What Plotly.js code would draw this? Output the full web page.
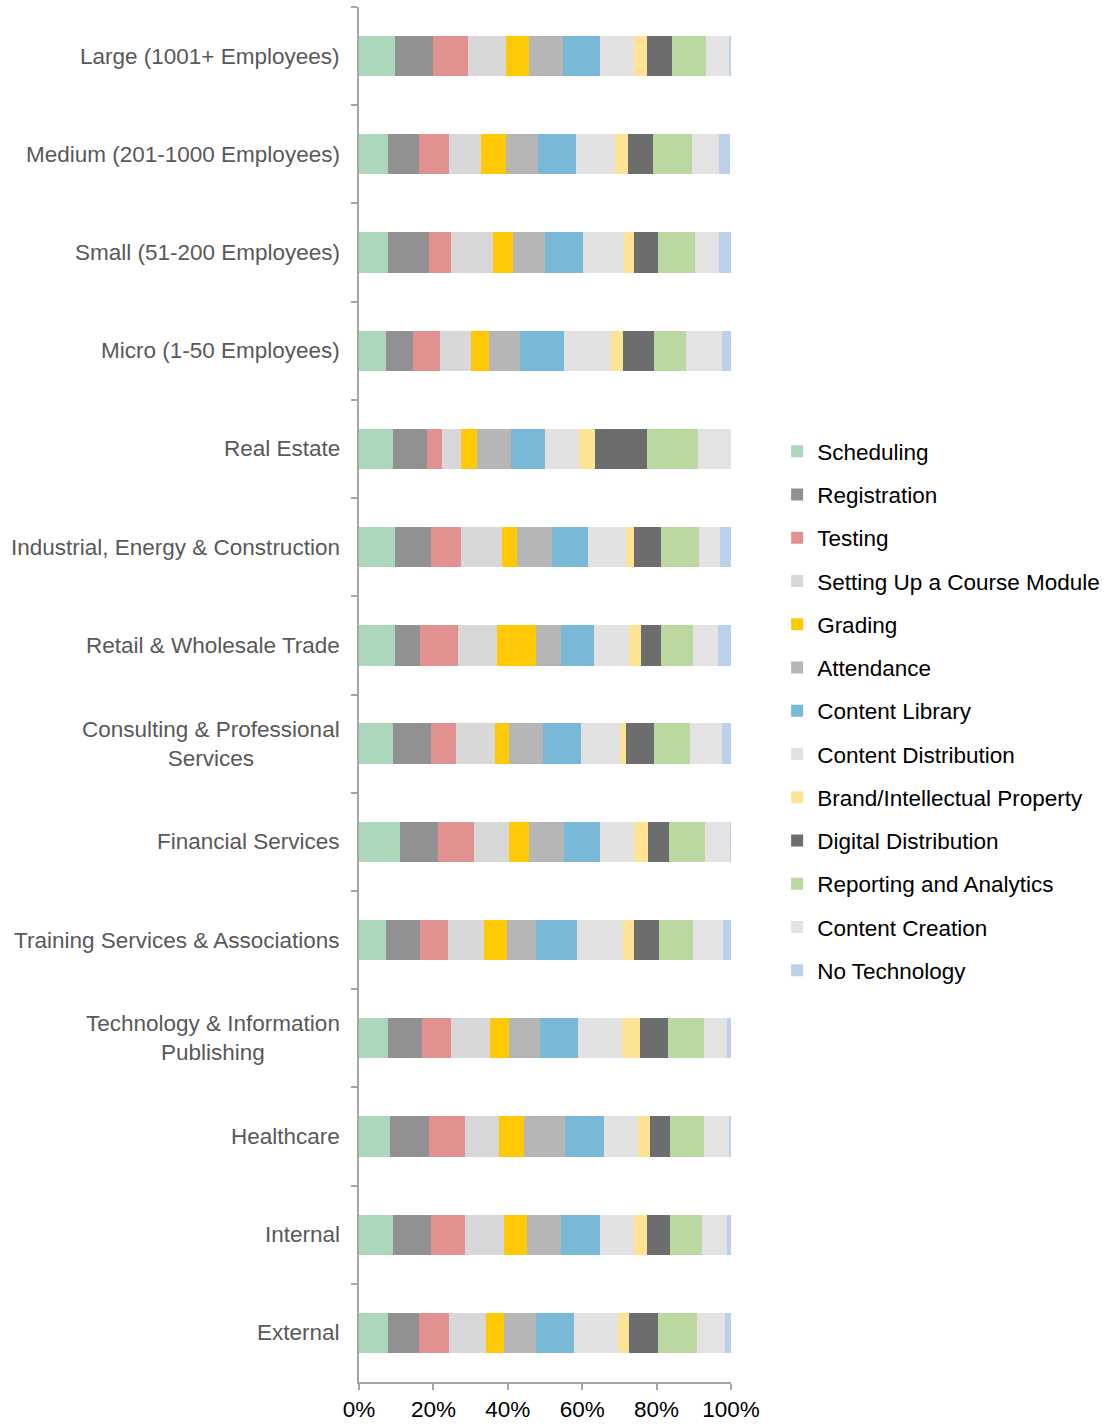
<!DOCTYPE html>
<html>
<head>
<meta charset="utf-8">
<script src="https://cdn.plot.ly/plotly-3.0.1.min.js"></script>
<style>
  html, body { margin: 0; padding: 0; background: #fff; }
  #chart { width: 1106px; height: 1427px; }
</style>
</head>
<body>
<div id="chart"></div>
<script>
const categories = [
  "Large (1001+ Employees)",
  "Medium (201-1000 Employees)",
  "Small (51-200 Employees)",
  "Micro (1-50 Employees)",
  "Real Estate",
  "Industrial, Energy & Construction",
  "Retail & Wholesale Trade",
  "Consulting & Professional<br>Services",
  "Financial Services",
  "Training Services & Associations",
  "Technology & Information<br>Publishing",
  "Healthcare",
  "Internal",
  "External"
];

const seriesNames = [
  "Scheduling", "Registration", "Testing", "Setting Up a Course Module",
  "Grading", "Attendance", "Content Library", "Content Distribution",
  "Brand/Intellectual Property", "Digital Distribution",
  "Reporting and Analytics", "Content Creation", "No Technology"
];

const seriesColors = [
  "#add7bb", "#919191", "#e09190", "#d9d8d9", "#ffca05", "#b5b6b5",
  "#79b8d7", "#e2e2e2", "#ffe394", "#6c6e6d", "#bad8a0", "#e3e3e3", "#bbd0ea"
];

// values in % per category (same order as categories)
const scheduling   = [9.7, 7.8, 7.8, 7.3, 9.1, 9.7, 9.7, 9.1, 11.0, 7.3, 7.8, 8.4, 9.1, 7.8];
const registration = [10.3, 8.4, 10.9, 7.3, 9.1, 9.7, 6.6, 10.3, 10.3, 9.0, 9.2, 10.3, 10.3, 8.4];
const testing      = [9.2, 8.0, 6.1, 7.3, 4.2, 7.9, 10.4, 6.7, 9.7, 7.5, 7.8, 9.8, 9.2, 8.0];
const settingUp    = [10.4, 8.6, 11.1, 8.1, 5.0, 11.1, 10.5, 10.4, 9.3, 9.8, 10.5, 9.2, 10.4, 9.9];
const grading      = [6.1, 6.7, 5.6, 4.9, 4.3, 4.2, 10.4, 3.7, 5.5, 6.1, 4.9, 6.7, 6.1, 4.9];
const attendance   = [9.2, 8.5, 8.5, 8.5, 9.2, 9.2, 6.7, 9.2, 9.2, 8.0, 8.5, 11.1, 9.2, 8.5];
const contentLib   = [9.8, 10.3, 10.3, 11.6, 9.1, 9.7, 9.0, 10.3, 9.8, 10.9, 10.3, 10.3, 10.4, 10.4];
const contentDist  = [9.2, 10.4, 11.0, 12.8, 9.2, 10.4, 9.3, 10.4, 9.2, 12.3, 11.7, 9.2, 9.2, 11.6];
const brandIP      = [3.6, 3.7, 2.5, 3.1, 4.3, 1.9, 3.1, 1.8, 3.6, 3.1, 4.9, 3.1, 3.6, 3.1];
const digitalDist  = [6.7, 6.7, 6.7, 8.5, 14.0, 7.3, 5.5, 7.4, 5.6, 6.7, 7.4, 5.6, 6.1, 7.9];
const reporting    = [9.1, 10.4, 9.7, 8.5, 13.5, 10.3, 8.6, 9.7, 9.7, 9.2, 9.7, 9.1, 8.6, 10.4];
const contentCreat = [6.2, 7.3, 6.7, 9.8, 9.1, 5.6, 6.7, 8.6, 6.7, 7.9, 6.1, 6.7, 6.6, 7.4];
const noTech       = [0.5, 3.0, 3.0, 2.3, 0.0, 3.0, 3.5, 2.3, 0.5, 2.3, 1.2, 0.5, 1.2, 1.7];

const seriesValues = [scheduling, registration, testing, settingUp, grading, attendance,
  contentLib, contentDist, brandIP, digitalDist, reporting, contentCreat, noTech];

const xTickVals = [0, 20, 40, 60, 80, 100];
const xTickText = ["0%", "20%", "40%", "60%", "80%", "100%"];

const traces = seriesNames.map((name, i) => ({
  type: "bar",
  orientation: "h",
  name: name,
  x: seriesValues[i],
  y: categories,
  marker: { color: seriesColors[i], line: { width: 0 } },
  legendgroup: "g" + i,
  hoverinfo: "name+x"
}));

const fontFam = "Liberation Sans, Arial, Helvetica, sans-serif";
const fs = 22.5;

const annotations = categories.map(c => ({
  xref: "paper", yref: "y",
  x: 0, y: c,
  xanchor: "right", yanchor: "middle",
  xshift: -17,
  text: c,
  align: "center",
  showarrow: false,
  font: { family: fontFam, size: fs, color: "#595959" }
}));

const layout = {
  width: 1106,
  height: 1427,
  margin: { l: 359, r: 375, t: 7, b: 45, pad: 0, autoexpand: false },
  paper_bgcolor: "#ffffff",
  plot_bgcolor: "#ffffff",
  barmode: "stack",
  bargap: 0.59,
  font: { family: fontFam, size: fs, color: "#000" },
  showlegend: true,
  legend: {
    x: 1.124, xanchor: "left", xref: "paper",
    y: 0.488, yanchor: "middle",
    traceorder: "grouped",
    tracegroupgap: 11,
    itemwidth: 30,
    font: { family: fontFam, size: fs, color: "#000" },
    bgcolor: "rgba(0,0,0,0)"
  },
  xaxis: {
    range: [0, 100],
    tickvals: xTickVals,
    ticktext: xTickText,
    showgrid: false,
    zeroline: false,
    showline: true,
    linecolor: "#a6a6a6",
    linewidth: 2,
    ticks: "outside",
    ticklen: 6,
    tickwidth: 2,
    tickcolor: "#a6a6a6",
    tickfont: { family: fontFam, size: fs, color: "#000" },
    fixedrange: true
  },
  yaxis: {
    type: "category",
    categoryorder: "array",
    categoryarray: categories,
    autorange: "reversed",
    range: [13.5, -0.5],
    showticklabels: false,
    showgrid: false,
    zeroline: false,
    showline: true,
    linecolor: "#a6a6a6",
    linewidth: 2,
    ticks: "outside",
    tickson: "boundaries",
    ticklen: 6,
    tickwidth: 2,
    tickcolor: "#a6a6a6",
    fixedrange: true
  },
  annotations: annotations
};

Plotly.newPlot("chart", traces, layout, { displayModeBar: false, staticPlot: true });
</script>
</body>
</html>
